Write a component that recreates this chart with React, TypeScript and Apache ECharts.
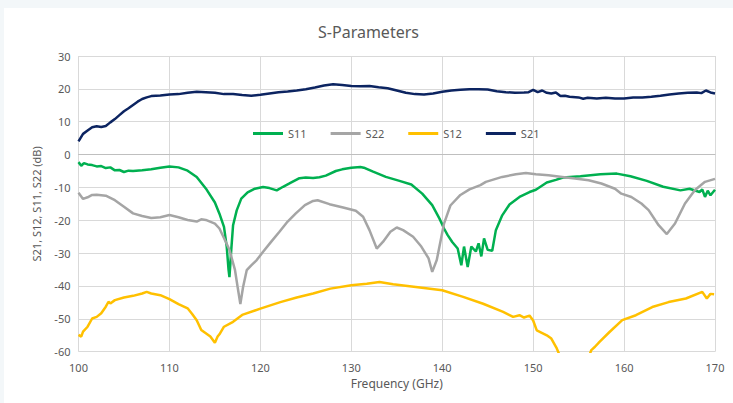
import React, { useEffect, useRef } from "react";
import * as echarts from "echarts";

const xTicks = [100, 110, 120, 130, 140, 150, 160, 170];
const yTicks = [-60, -50, -40, -30, -20, -10, 0, 10, 20, 30];

const s21Freq = [100, 100.5, 101, 101.5, 102, 102.5, 103, 103.5, 104, 104.5, 105, 105.5, 106, 106.5, 107, 107.5, 108, 109, 110, 111, 112, 113, 114, 115, 116, 117, 118, 119, 120, 121, 122, 123, 124, 125, 126, 127, 128, 129, 130, 131, 132, 133, 134, 135, 136, 137, 138, 139, 140, 141, 142, 143, 144, 145, 146, 147, 148, 149, 149.5, 150, 150.5, 151, 151.5, 152, 152.5, 153, 153.5, 154, 155, 155.5, 156, 157, 158, 159, 160, 161, 162, 163, 164, 165, 166, 167, 168, 168.5, 169, 169.5, 170];
const s21Vals = [4.0, 6.3, 7.3, 8.3, 8.6, 8.4, 8.7, 9.8, 10.8, 12.0, 13.2, 14.1, 15.1, 16.1, 16.9, 17.4, 17.8, 18.0, 18.3, 18.4, 18.8, 19.1, 19.0, 18.8, 18.4, 18.4, 18.1, 17.9, 18.2, 18.6, 19.0, 19.2, 19.5, 19.9, 20.4, 21.0, 21.4, 21.2, 20.9, 20.8, 20.9, 20.5, 20.2, 19.5, 18.8, 18.4, 18.3, 18.6, 19.1, 19.5, 19.7, 19.9, 19.9, 19.8, 19.3, 19.0, 18.8, 18.9, 19.0, 19.7, 19.0, 19.5, 18.8, 18.6, 18.9, 17.8, 17.9, 17.6, 17.4, 17.0, 17.3, 17.1, 17.3, 17.1, 17.1, 17.4, 17.4, 17.6, 17.9, 18.3, 18.6, 18.8, 18.9, 18.7, 19.5, 18.9, 18.6];

const s11Freq = [100, 100.3, 100.6, 101, 101.5, 102, 102.5, 103, 103.5, 104, 104.5, 105, 105.5, 106, 107, 108, 109, 110, 111, 112, 113, 114, 115, 115.5, 116, 116.3, 116.5, 116.6, 116.8, 117.0, 117.4, 117.9, 118.6, 119.4, 120.3, 121, 121.8, 122.5, 123.2, 124.3, 125, 125.8, 126.5, 127.2, 128.3, 129, 130, 131, 131.5, 132.4, 133.8, 135.3, 136.6, 137.8, 138.9, 139.7, 140.2, 140.6, 141.1, 141.7, 142.1, 142.4, 142.8, 143.2, 143.7, 144.0, 144.3, 144.6, 145.0, 145.5, 145.9, 146.6, 147.4, 148.5, 149.6, 150.3, 151.5, 152.5, 153.3, 155.2, 157.4, 159.2, 160.7, 162.5, 164.3, 166.2, 167.2, 168.3, 168.6, 168.9, 169.2, 169.5, 170];
const s11Vals = [-2.3, -3.4, -2.6, -3.0, -3.2, -3.6, -3.5, -4.1, -3.9, -4.8, -4.7, -5.3, -4.9, -5.0, -4.8, -4.5, -4.0, -3.6, -3.9, -4.9, -6.8, -10.3, -14.6, -18, -22, -28, -35, -37.3, -29, -21.5, -17, -13.4, -11.5, -10.4, -9.9, -10.2, -10.9, -9.8, -8.8, -7.2, -7.0, -7.1, -6.9, -6.4, -5.0, -4.5, -4.0, -3.8, -4.1, -5.2, -6.8, -8.0, -9.1, -11.9, -15.4, -19.5, -22.5, -24.5, -26.6, -28.6, -33.7, -28, -34.2, -28, -29.5, -27, -31, -25.5, -29, -29.3, -23, -18.5, -15.2, -12.9, -11.4, -10.7, -8.5, -7.7, -7.0, -6.6, -6.0, -5.8, -6.6, -8.0, -9.8, -10.9, -10.4, -11.4, -10.6, -12.9, -11.0, -12.4, -10.7];

const s22Freq = [100, 100.5, 101, 101.5, 102, 103, 104, 105, 106, 107, 108, 109, 110, 111, 112, 113, 113.5, 114, 115, 115.5, 116.1, 116.6, 117.2, 117.5, 117.8, 118.1, 118.5, 119.0, 119.6, 120.3, 121.2, 122.1, 123.0, 123.9, 124.9, 125.8, 126.3, 127.6, 129.1, 130.5, 131.3, 132.0, 132.8, 133.5, 134.3, 135.0, 135.7, 136.8, 137.7, 138.5, 138.9, 139.4, 140.2, 140.9, 142.0, 143.0, 144.2, 144.8, 146.6, 148.1, 149.2, 150.3, 151.7, 153.2, 154.6, 156.1, 157.5, 159.0, 159.7, 160.8, 161.9, 162.7, 163.8, 164.7, 165.6, 166.7, 167.8, 168.9, 170];
const s22Vals = [-11.6, -13.5, -13.0, -12.3, -12.2, -12.5, -13.9, -15.9, -17.9, -18.7, -19.3, -19.1, -18.4, -19.1, -19.9, -20.4, -19.7, -19.9, -21.0, -22.5, -26, -29, -35, -40.3, -45.5, -40.3, -35.2, -33.7, -32.1, -29.6, -26.5, -23.5, -20.4, -17.9, -15.4, -14.1, -13.9, -15.1, -16.1, -17.1, -18.9, -23, -28.6, -26.5, -23.5, -22.2, -23, -25, -28, -31.6, -35.7, -32.1, -21, -15.5, -12.3, -10.6, -9.3, -8.3, -6.8, -6.0, -5.6, -6.0, -6.3, -6.8, -7.3, -7.8, -8.8, -10.4, -11.9, -12.9, -14.9, -16.9, -21.5, -24.2, -21, -14.9, -10.8, -8.3, -7.4];

const s12Freq = [100, 100.3, 100.5, 101, 101.5, 102, 102.5, 103, 103.3, 103.5, 104, 105, 106, 107, 107.5, 108, 109, 110, 111, 112, 112.5, 113, 113.5, 114, 114.5, 115, 115.3, 115.5, 116, 117, 118, 120, 122.2, 124, 125.8, 127.7, 130, 131.7, 133.1, 134.6, 137.1, 140, 142.3, 144.5, 146.7, 147.8, 148.5, 149.0, 149.6, 150.0, 150.4, 151.5, 152.0, 152.6, 152.9, 153.5, 155.5, 156.2, 156.4, 156.8, 157.3, 158.4, 159.8, 161.3, 163.1, 164.9, 166.8, 168.6, 169.1, 169.5, 169.9];
const s12Vals = [-54.9, -55.4, -53.9, -52.4, -49.9, -49.4, -48.3, -46.3, -44.8, -45.3, -44.3, -43.5, -43.0, -42.3, -41.8, -42.3, -42.8, -44.0, -45.5, -46.8, -48.5, -50.4, -53.4, -54.4, -55.4, -57.3, -55.4, -54.7, -52.4, -50.9, -48.8, -46.9, -44.9, -43.5, -42.3, -40.8, -39.8, -39.3, -38.8, -39.5, -40.3, -41.3, -43.3, -45.4, -47.9, -49.4, -48.9, -49.6, -49.0, -50.5, -53.5, -55, -56, -59, -61, -64, -64, -61, -59.5, -58.5, -57, -54, -50.4, -48.9, -46.4, -44.9, -43.8, -41.8, -43.8, -42.4, -42.5];

const pairs = (f: number[], v: number[]) => f.map((x, i) => [x, v[i]]);

const FONT = "'Noto Sans', sans-serif";
const TXT = "#595959";

export default function App() {
  const ref = useRef<HTMLDivElement>(null);
  useEffect(() => {
    if (!ref.current) return;
    const chart = echarts.init(ref.current, null, { renderer: "svg" });
    const mk = (name: string, color: string, f: number[], v: number[]) => ({
      name,
      type: "line",
      data: pairs(f, v),
      showSymbol: false,
      symbol: "none",
      lineStyle: { color, width: 2.5 },
      itemStyle: { color },
      clip: true,
    });
    chart.setOption({
      animation: false,
      backgroundColor: "#ffffff",
      textStyle: { fontFamily: FONT },
      title: {
        text: "S-Parameters",
        left: "center",
        top: 11,
        textStyle: { fontFamily: FONT, fontSize: 16, fontWeight: "normal", color: TXT },
      },
      legend: {
        left: 249,
        top: 120,
        padding: 0,
        icon: "rect",
        itemWidth: 30,
        itemHeight: 3,
        itemGap: 24,
        textStyle: { fontFamily: FONT, fontSize: 11, color: TXT },
        data: ["S11", "S22", "S12", "S21"],
      },
      grid: { left: 74.5, right: 18, top: 48, bottom: 51.3, containLabel: false },
      xAxis: {
        type: "value",
        min: xTicks[0],
        max: xTicks[xTicks.length - 1],
        interval: 10,
        name: "Frequency (GHz)",
        nameLocation: "middle",
        nameGap: 25,
        nameTextStyle: { fontFamily: FONT, fontSize: 12, color: TXT },
        axisLine: { show: true, lineStyle: { color: "#bfbfbf", width: 1 } },
        axisTick: { show: false },
        axisLabel: { fontFamily: FONT, fontSize: 11, color: TXT, margin: 10 },
        splitLine: { show: true, lineStyle: { color: "#d9d9d9", width: 1 } },
      },
      yAxis: {
        type: "value",
        min: yTicks[0],
        max: yTicks[yTicks.length - 1],
        interval: 10,
        name: "S21, S12, S11, S22 (dB)",
        nameLocation: "middle",
        nameGap: 37,
        nameRotate: 90,
        nameTextStyle: { fontFamily: FONT, fontSize: 11, color: TXT },
        axisLine: { show: false },
        axisTick: { show: false },
        axisLabel: { fontFamily: FONT, fontSize: 11, color: TXT, margin: 8 },
        splitLine: { show: true, lineStyle: { color: "#d9d9d9", width: 1 } },
      },
      series: [
        mk("S11", "#00b050", s11Freq, s11Vals),
        mk("S22", "#a5a5a5", s22Freq, s22Vals),
        mk("S12", "#ffc000", s12Freq, s12Vals),
        mk("S21", "#0c2461", s21Freq, s21Vals),
      ],
    });
    return () => chart.dispose();
  }, []);
  return (
    <div style={{ position: "fixed", left: 0, top: 0, width: 733, height: 403, background: "#f3f7f9" }}>
      <div ref={ref} style={{ position: "absolute", left: 4, top: 8, width: 729, height: 395 }} />
    </div>
  );
}
